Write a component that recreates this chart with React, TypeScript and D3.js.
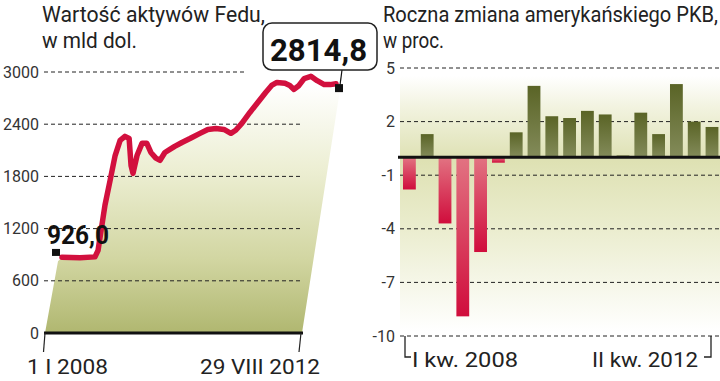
import React from "react";
import * as d3 from "d3";

// ---------- Data ----------
const fedDates = [
  "2008-01-01", "2008-04-22", "2008-07-24", "2008-08-12", "2008-08-31", "2008-09-24",
  "2008-10-26", "2008-11-26", "2008-12-27", "2009-01-26", "2009-02-21", "2009-03-05",
  "2009-03-17", "2009-04-11", "2009-05-12", "2009-06-11", "2009-07-06", "2009-08-06",
  "2009-09-01", "2009-10-01", "2009-11-01", "2009-12-01", "2010-01-15", "2010-03-06",
  "2010-05-07", "2010-06-25", "2010-08-14", "2010-10-03", "2010-11-15", "2010-12-15",
  "2011-01-22", "2011-03-13", "2011-05-01", "2011-06-19", "2011-07-26", "2011-08-28",
  "2011-10-17", "2011-11-16", "2011-12-12", "2012-01-12", "2012-02-13", "2012-03-26",
  "2012-05-04", "2012-06-17", "2012-07-24", "2012-08-29",
];
const fedValues = [
  870, 865, 875, 950, 1180, 1470,
  1755, 2040, 2215, 2260, 2235, 1925,
  1835, 2040, 2180, 2180, 2075, 2010,
  1985, 2075, 2110, 2145, 2190, 2235,
  2295, 2340, 2350, 2340, 2295, 2330,
  2410, 2535, 2650, 2765, 2845, 2880,
  2870, 2845, 2800, 2845, 2925, 2950,
  2900, 2855, 2855, 2865,
];
const fedTicks = [0, 600, 1200, 1800, 2400, 3000];
const fedStartLabel = "926,0";
const fedEndLabel = "2814,8";
const fedStartValue = 926.0;
const fedEndValue = 2814.8;
const fedAxisLabels = ["1 I 2008", "29 VIII 2012"];

const gdpQuarters = [
  "I 2008", "II 2008", "III 2008", "IV 2008",
  "I 2009", "II 2009", "III 2009", "IV 2009",
  "I 2010", "II 2010", "III 2010", "IV 2010",
  "I 2011", "II 2011", "III 2011", "IV 2011",
  "I 2012", "II 2012",
];
const gdpValues = [-1.8, 1.3, -3.7, -8.9, -5.3, -0.3, 1.4, 4.0, 2.3, 2.2, 2.6, 2.4, 0.1, 2.5, 1.3, 4.1, 2.0, 1.7];
const gdpTicks = [5, 2, -1, -4, -7, -10];
const gdpAxisLabels = ["I kw. 2008", "II kw. 2012"];

const FONT = "Roboto, 'Noto Sans', sans-serif";

export default function App() {
  const parse = d3.timeParse("%Y-%m-%d");
  const dates = fedDates.map((d) => parse(d) as Date);
  const t0 = dates[0];
  const t1 = dates[dates.length - 1];

  // left chart scales
  const xLine = d3.scaleTime().domain([t0, t1]).range([62, 336]);
  const xAxis = d3.scaleTime().domain([t0, t1]).range([45, 302]);
  const yL = d3.scaleLinear().domain([0, 3000]).range([333, 72]);

  const pts: [number, number][] = dates.map((d, i) => [xLine(d), yL(fedValues[i])]);
  const line = d3.line<[number, number]>().curve(d3.curveLinear);
  const linePath = line(pts) || "";
  const fillPts: [number, number][] = [
    ...pts,
    [xLine(t1) + 4, yL(fedValues[fedValues.length - 1]) + 6],
    [xAxis(t1), yL(0)],
    [xAxis(t0), yL(0)],
    [xLine(t0) - 4, yL(fedValues[0]) + 4],
  ];
  const fillPath = (d3.line<[number, number]>()(fillPts) || "") + "Z";

  // right chart scales
  const xB = d3.scaleBand<string>().domain(gdpQuarters).range([400.5, 720.9]).paddingInner(0.28).paddingOuter(0.14);
  const yR = d3.scaleLinear().domain([-10, 5]).range([336, 68]);

  const endX = xLine(t1) + 3;
  const endY = yL(fedEndValue);
  const startX = xLine(t0) - 6;
  const startY = yL(fedStartValue);

  return (
    <svg width={720} height={381} style={{ position: "absolute", left: 0, top: 0, background: "#fff" }} fontFamily={FONT}>
      <defs>
        <linearGradient id="fedFill" x1="0" y1="85" x2="0" y2="333" gradientUnits="userSpaceOnUse">
          <stop offset="0" stopColor="#ffffff" />
          <stop offset="0.35" stopColor="#eceed2" />
          <stop offset="0.7" stopColor="#d2d6a2" />
          <stop offset="1" stopColor="#b0b770" />
        </linearGradient>
        <linearGradient id="gdpBg" x1="0" y1="76" x2="0" y2="332" gradientUnits="userSpaceOnUse">
          <stop offset="0" stopColor="#ffffff" />
          <stop offset="0.12" stopColor="#f2f3e0" />
          <stop offset="0.33" stopColor="#dee1b3" />
          <stop offset="0.6" stopColor="#ebedcf" />
          <stop offset="1" stopColor="#ffffff" />
        </linearGradient>
        <linearGradient id="posBar" x1="0" y1="0" x2="0" y2="1">
          <stop offset="0" stopColor="#5a6426" />
          <stop offset="1" stopColor="#838b5a" />
        </linearGradient>
        <linearGradient id="negBar" x1="0" y1="0" x2="0" y2="1">
          <stop offset="0" stopColor="#e27382" />
          <stop offset="1" stopColor="#d00d3c" />
        </linearGradient>
      </defs>

      {/* ---------- Left chart ---------- */}
      <text x={42} y={22} fontSize={22} fontWeight={400} fill="#222" textLength={223} lengthAdjust="spacingAndGlyphs">Wartość aktywów Fedu,</text>
      <text x={42} y={48} fontSize={22} fontWeight={400} fill="#222" textLength={95} lengthAdjust="spacingAndGlyphs">w mld dol.</text>

      <path d={fillPath} fill="url(#fedFill)" />

      {fedTicks.filter((t) => t > 0).map((t) => (
        <line key={t} x1={44} x2={t === 3000 ? 247 : 302} y1={yL(t)} y2={yL(t)} stroke="#222" strokeWidth={1} strokeDasharray="4 3" />
      ))}
      {fedTicks.map((t) => (
        <text key={t} x={39} y={yL(t)} dy="0.35em" textAnchor="end" fontSize={16} fontWeight={400} fill="#333">{t}</text>
      ))}

      <line x1={xAxis(t0) - 1} x2={xAxis(t1) + 1} y1={yL(0)} y2={yL(0)} stroke="#111" strokeWidth={3} />
      <line x1={xAxis(t0)} y1={yL(0)} x2={xAxis(t0) - 1.5} y2={yL(0) + 19} stroke="#222" strokeWidth={1.2} />
      <line x1={xAxis(t1) - 1} y1={yL(0)} x2={xAxis(t1) - 3} y2={yL(0) + 19} stroke="#222" strokeWidth={1.2} />
      <text x={67.5} y={374} textAnchor="middle" fontSize={21} fill="#222" textLength={81} lengthAdjust="spacingAndGlyphs">{fedAxisLabels[0]}</text>
      <text x={260} y={374} textAnchor="middle" fontSize={21} fill="#222" textLength={120} lengthAdjust="spacingAndGlyphs">{fedAxisLabels[1]}</text>

      <path d={linePath} fill="none" stroke="#d2103e" strokeWidth={5.5} strokeLinejoin="round" strokeLinecap="round" />

      {/* start marker */}
      <rect x={startX - 4} y={startY - 3.5} width={8} height={7} fill="#111" />
      <text x={47} y={244} fontSize={25} fontWeight={700} fill="#111" textLength={62} lengthAdjust="spacingAndGlyphs">{fedStartLabel}</text>

      {/* end marker & callout */}
      <line x1={342} y1={70} x2={endX + 1} y2={endY - 3} stroke="#111" strokeWidth={1.2} />
      <rect x={endX - 4} y={endY - 4} width={8} height={8} fill="#111" />
      <rect x={263} y={23} width={114} height={47} rx={9} ry={9} fill="#fff" stroke="#222" strokeWidth={1.5} />
      <text x={270} y={61} fontSize={32} fontWeight={700} fill="#111" textLength={97} lengthAdjust="spacingAndGlyphs">{fedEndLabel}</text>

      {/* ---------- Right chart ---------- */}
      <text x={383} y={22} fontSize={22} fontWeight={400} fill="#222" textLength={335} lengthAdjust="spacingAndGlyphs">Roczna zmiana amerykańskiego PKB,</text>
      <text x={383} y={48} fontSize={22} fontWeight={400} fill="#222" textLength={61} lengthAdjust="spacingAndGlyphs">w proc.</text>

      <rect x={400} y={76} width={320} height={256} fill="url(#gdpBg)" />

      {gdpTicks.map((t) => (
        <g key={t}>
          <line x1={400} x2={720} y1={yR(t)} y2={yR(t)} stroke="#222" strokeWidth={1} strokeDasharray="4 3" />
          <text x={395} y={yR(t)} dy="0.35em" textAnchor="end" fontSize={16} fontWeight={400} fill="#333">{t}</text>
        </g>
      ))}

      {gdpValues.map((v, i) => {
        const q = gdpQuarters[i];
        const y0 = yR(0);
        const y1 = yR(v);
        return (
          <rect
            key={q}
            x={xB(q)}
            y={Math.min(y0, y1)}
            width={xB.bandwidth()}
            height={Math.max(Math.abs(y1 - y0), 0.5)}
            fill={v >= 0 ? "url(#posBar)" : "url(#negBar)"}
          />
        );
      })}
      <line x1={398} x2={720} y1={yR(0)} y2={yR(0)} stroke="#111" strokeWidth={3} />

      {/* bottom bracket */}
      <path d={`M405,${yR(-10)}V357H411`} fill="none" stroke="#222" strokeWidth={1.3} />
      <path d={`M711,${yR(-10)}V357H704`} fill="none" stroke="#222" strokeWidth={1.3} />
      <text x={412} y={367} fontSize={21} fill="#222" textLength={106} lengthAdjust="spacingAndGlyphs">{gdpAxisLabels[0]}</text>
      <text x={698} y={367} textAnchor="end" fontSize={21} fill="#222" textLength={106} lengthAdjust="spacingAndGlyphs">{gdpAxisLabels[1]}</text>
    </svg>
  );
}
